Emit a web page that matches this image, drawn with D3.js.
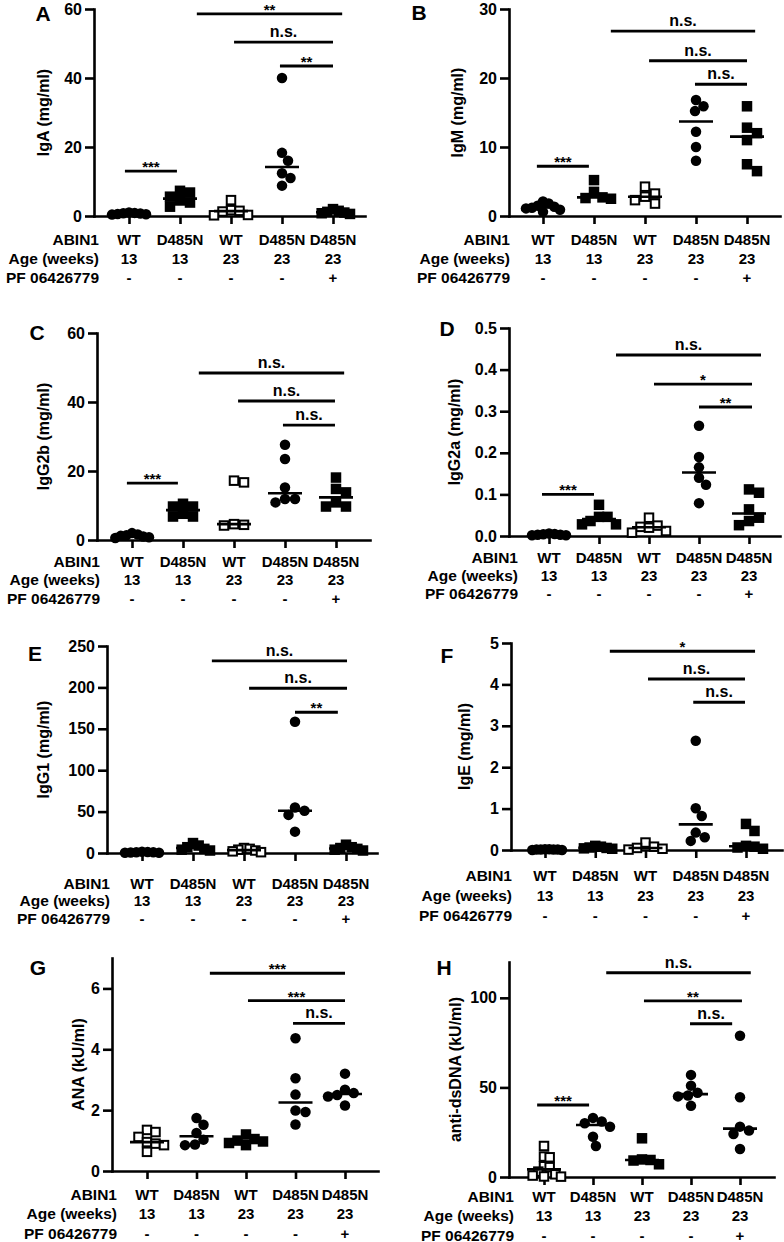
<!DOCTYPE html>
<html><head><meta charset="utf-8">
<script src="https://cdn.jsdelivr.net/npm/d3@7"></script>
<style>
body{margin:0;background:#fff}
text{font-family:"Liberation Sans",Arial,sans-serif;font-weight:bold;fill:#000}
</style>
</head><body>
<svg id="chart" width="784" height="1242"></svg>
<script>
// ---------- data ----------
const rowTitles = ["ABIN1", "Age (weeks)", "PF 06426779"];
const abin1 = ["WT", "D485N", "WT", "D485N", "D485N"];
const ageWeeks = ["13", "13", "23", "23", "23"];
const pfTreatment = ["-", "-", "-", "-", "+"];

const panelLetters = ["A", "B", "C", "D", "E", "F", "G", "H"];
const yTitles = ["IgA (mg/ml)", "IgM (mg/ml)", "IgG2b (mg/ml)", "IgG2a (mg/ml)",
                 "IgG1 (mg/ml)", "IgE (mg/ml)", "ANA (kU/ml)", "anti-dsDNA (kU/ml)"];
const yDomains = [[0, 60], [0, 30], [0, 60], [0, 0.5], [0, 250], [0, 5], [0, 7], [0, 120]];
const yTickValues = [
  [0, 20, 40, 60], [0, 10, 20, 30], [0, 20, 40, 60], [0, 0.1, 0.2, 0.3, 0.4, 0.5],
  [0, 50, 100, 150, 200, 250], [0, 1, 2, 3, 4, 5], [0, 2, 4, 6], [0, 50, 100]];
const yTickFormats = ["d", "d", "d", ".1f", "d", "d", "d", "d"];

// marker per group: circle = filled circle, square = filled square, open = open square
const markersIg = ["circle", "square", "open", "circle", "square"];
const markersAuto = ["open", "circle", "square", "circle", "circle"];

const valuesA = [[1.0, 0.9, 0.8, 0.7, 0.6, 0.5, 0.4], [7.3, 6.8, 5.6, 4.5, 3.9, 2.7],
  [4.6, 1.7, 1.5, 1.3, 0.3, 0.2], [40, 18.3, 16, 12.4, 11, 8.8], [2.0, 1.5, 1.2, 1.0, 0.8, 0.6]];
const valuesB = [[2.1, 1.8, 1.5, 1.35, 1.2, 1.1, 0.9, 0.6], [5.2, 3.5, 2.7, 2.6, 2.5],
  [4.25, 3.25, 2.8, 2.3, 1.8], [16.8, 15.9, 15.2, 12.2, 10.0, 8.0], [15.9, 12.8, 12.0, 11.0, 7.5, 6.5]];
const valuesC = [[2.0, 1.6, 1.4, 1.2, 1.0, 0.8, 0.6], [10.5, 9.7, 9.7, 7.6, 6.8, 6.8],
  [17.2, 16.7, 4.6, 4.4, 4.2], [27.6, 23.5, 15.2, 11.9, 11.9, 10.9], [18.1, 14.8, 13.8, 10.9, 9.7, 9.7]];
const valuesD = [[0.006, 0.005, 0.004, 0.003, 0.003, 0.002, 0.002], [0.075, 0.046, 0.046, 0.036, 0.028, 0.028],
  [0.044, 0.025, 0.022, 0.02, 0.012, 0.008], [0.265, 0.19, 0.165, 0.14, 0.123, 0.079],
  [0.112, 0.104, 0.064, 0.044, 0.036, 0.026]];
const valuesE = [[1.5, 1.2, 1.0, 0.8, 0.5, 0.3, 0.2], [12, 9, 7, 5, 4, 3],
  [6, 5, 4, 3, 2, 1], [158.5, 55, 51, 46, 25.8], [10, 7, 6, 5, 4, 3]];
const valuesF = [[0.02, 0.02, 0.01, 0.01, 0.01, 0.01, 0, 0], [0.1, 0.08, 0.06, 0.05, 0.04, 0.03],
  [0.18, 0.08, 0.05, 0.03, 0.01], [2.64, 1.01, 0.82, 0.42, 0.31, 0.22], [0.63, 0.46, 0.10, 0.08, 0.06, 0.03]];
const valuesG = [[1.35, 1.28, 1.12, 0.95, 0.9, 0.85, 0.63], [1.74, 1.52, 1.25, 1.03, 0.87, 0.85],
  [1.2, 1.05, 1.0, 0.97, 0.92, 0.85], [4.36, 3.05, 2.51, 1.99, 1.94, 1.53], [3.2, 2.67, 2.56, 2.5, 2.45, 2.15]];
const valuesH = [[17.3, 11.4, 11.0, 6.0, 5.5, 3.0, 1.5, 0.8, 0.3, 0.2], [33, 31, 30, 28, 22.5, 17.3],
  [21.6, 9.8, 9.5, 9.2, 7.1], [57, 51, 47, 45.5, 45, 39.7], [78.8, 44.5, 28.1, 25.9, 24, 15.6]];

// significance brackets: from/to in category index units, y in data units
const sigA = [{from: 1.33, to: 4.18, y: 58.6, label: "**"}, {from: 2.06, to: 4.0, y: 50.4, label: "n.s."},
  {from: 2.96, to: 4.0, y: 43.5, label: "**"}, {from: -0.08, to: 0.94, y: 13.0, label: "***"}];
const sigB = [{from: 1.33, to: 4.16, y: 26.8, label: "n.s."}, {from: 2.08, to: 4.0, y: 22.5, label: "n.s."},
  {from: 2.98, to: 4.0, y: 19.1, label: "n.s."}, {from: -0.12, to: 0.9, y: 7.2, label: "***"}];
const sigC = [{from: 1.31, to: 4.16, y: 48.4, label: "n.s."}, {from: 2.08, to: 3.98, y: 40.3, label: "n.s."},
  {from: 2.96, to: 3.98, y: 33.3, label: "n.s."}, {from: -0.1, to: 0.9, y: 16.5, label: "***"}];
const sigD = [{from: 1.34, to: 4.24, y: 0.435, label: "n.s."}, {from: 2.1, to: 4.06, y: 0.365, label: "*"},
  {from: 3.0, to: 4.06, y: 0.31, label: "**"}, {from: -0.14, to: 0.9, y: 0.10, label: "***"}];
const sigE = [{from: 1.37, to: 4.02, y: 232, label: "n.s."}, {from: 2.1, to: 4.02, y: 199, label: "n.s."},
  {from: 3.0, to: 3.84, y: 170, label: "**"}];
const sigF = [{from: 1.29, to: 4.18, y: 4.8, label: "*"}, {from: 2.05, to: 3.98, y: 4.13, label: "n.s."},
  {from: 2.95, to: 3.98, y: 3.57, label: "n.s."}];
const sigG = [{from: 1.27, to: 4.0, y: 6.5, label: "***"}, {from: 2.04, to: 4.0, y: 5.6, label: "***"},
  {from: 2.95, to: 4.0, y: 4.85, label: "n.s."}];
const sigH = [{from: 1.27, to: 4.22, y: 114, label: "n.s."}, {from: 2.04, to: 4.04, y: 98.3, label: "**"},
  {from: 2.98, to: 3.84, y: 85.5, label: "n.s."}, {from: -0.14, to: 0.92, y: 40.2, label: "***"}];

const panelValues = [valuesA, valuesB, valuesC, valuesD, valuesE, valuesF, valuesG, valuesH];
const panelSig = [sigA, sigB, sigC, sigD, sigE, sigF, sigG, sigH];
const panelMarkers = [markersIg, markersIg, markersIg, markersIg, markersIg, markersIg, markersAuto, markersAuto];

// ---------- layout (pixels) ----------
const layout = [
  {axisX: 94,  y0: 216,  yTop: 9,   cat0: 129, step: 51,    xEnd: 365, rowOff: 23, rowGap: 19,   labelRight: 99,  titleX: 43,  letter: [43, 13]},
  {axisX: 509, y0: 216,  yTop: 9,   cat0: 543, step: 51,    xEnd: 780, rowOff: 23, rowGap: 19,   labelRight: 510, titleX: 457, letter: [419, 12]},
  {axisX: 97,  y0: 540,  yTop: 333, cat0: 132, step: 51,    xEnd: 370, rowOff: 21, rowGap: 18.5, labelRight: 100, titleX: 43,  letter: [37, 332]},
  {axisX: 509, y0: 536,  yTop: 328, cat0: 549, step: 50,    xEnd: 780, rowOff: 21, rowGap: 18,   labelRight: 518, titleX: 454, letter: [447, 328]},
  {axisX: 107, y0: 853,  yTop: 646, cat0: 142, step: 51,    xEnd: 377, rowOff: 30, rowGap: 17.5, labelRight: 110, titleX: 43,  letter: [35, 653]},
  {axisX: 511, y0: 850,  yTop: 643, cat0: 545, step: 50.25, xEnd: 782, rowOff: 25, rowGap: 20,   labelRight: 512, titleX: 464, letter: [447, 655]},
  {axisX: 112, y0: 1171, yTop: 958, cat0: 147, step: 49.5,  xEnd: 378, rowOff: 23, rowGap: 19.5, labelRight: 117, titleX: 78,  letter: [38, 967]},
  {axisX: 509, y0: 1177, yTop: 962, cat0: 544, step: 49,    xEnd: 774, rowOff: 19, rowGap: 19.5, labelRight: 514, titleX: 455, letter: [444, 967]}
];

const svg = d3.select("#chart");
const LW = 2.6, MS = 10.5, MEDIAN_HALF = 17, SWARM_HALF = 17, FS = "15px";

function swarm(vals, y, shape) {
  const placed = [];
  const sep = MS * 0.92;
  vals.forEach(v => {
    const py = y(v);
    let dx = 0;
    for (let k = 0; k < 400; k++) {
      const cand = (k === 0 ? 0 : (k % 2 ? 1 : -1) * Math.ceil(k / 2)) * 0.5;
      const ok = placed.every(p => {
        const ax = Math.abs(p.dx - cand), ay = Math.abs(p.py - py);
        return shape === "circle" ? Math.hypot(ax, ay) >= sep : Math.max(ax, ay) >= sep;
      });
      if (ok) { dx = cand; break; }
    }
    placed.push({v, py, dx});
  });
  const span = d3.max(placed, p => Math.abs(p.dx));
  if (span > SWARM_HALF) placed.forEach(p => p.dx *= SWARM_HALF / span);
  return placed;
}

layout.forEach((L, pi) => {
  const g = svg.append("g");
  const y = d3.scaleLinear().domain(yDomains[pi]).range([L.y0, L.yTop]);
  const x = d3.scaleLinear()
    .domain([(L.axisX - L.cat0) / L.step, (L.xEnd - L.cat0) / L.step])
    .range([L.axisX, L.xEnd]);

  // y axis
  const ya = g.append("g").attr("transform", `translate(${L.axisX},0)`)
    .call(d3.axisLeft(y).tickValues(yTickValues[pi]).tickFormat(d3.format(yTickFormats[pi]))
      .tickSize(9).tickSizeOuter(0).tickPadding(3));
  // x axis
  const xa = g.append("g").attr("transform", `translate(0,${L.y0})`)
    .call(d3.axisBottom(x).tickValues([0, 1, 2, 3, 4]).tickFormat("").tickSize(8).tickSizeOuter(0));
  [ya, xa].forEach(a => {
    a.selectAll("path,line").attr("stroke", "#000").attr("stroke-width", LW);
    a.select(".domain").attr("stroke-linecap", "square");
    a.selectAll("text").style("font-size", "16px").attr("fill", "#000");
  });

  // y title
  g.append("text")
    .attr("transform", `translate(${L.titleX},${(L.y0 + L.yTop) / 2}) rotate(-90)`)
    .attr("text-anchor", "middle").attr("dominant-baseline", "central")
    .style("font-size", "16px").text(yTitles[pi]);

  // panel letter
  g.append("text").attr("x", L.letter[0]).attr("y", L.letter[1])
    .attr("text-anchor", "middle").attr("dominant-baseline", "central")
    .style("font-size", "21px").text(panelLetters[pi]);

  // category rows
  const rows = [abin1, ageWeeks, pfTreatment];
  rows.forEach((r, ri) => {
    const ry = L.y0 + L.rowOff + ri * L.rowGap;
    g.append("text").attr("x", L.labelRight).attr("y", ry)
      .attr("text-anchor", "end").attr("dominant-baseline", "central")
      .style("font-size", "15.5px").text(rowTitles[ri]);
    g.selectAll(null).data(r).enter().append("text")
      .attr("x", (d, i) => x(i)).attr("y", ry)
      .attr("text-anchor", "middle").attr("dominant-baseline", "central")
      .style("font-size", FS).text(d => d);
  });

  // points
  panelValues[pi].forEach((vals, gi) => {
    const shape = panelMarkers[pi][gi];
    const pts = swarm(vals, y, shape);
    const cx = x(gi);
    const grp = g.append("g");
    if (shape === "circle") {
      grp.selectAll("circle").data(pts).enter().append("circle")
        .attr("cx", p => cx + p.dx).attr("cy", p => p.py).attr("r", MS / 2).attr("fill", "#000");
    } else if (shape === "square") {
      grp.selectAll("rect").data(pts).enter().append("rect")
        .attr("x", p => cx + p.dx - MS / 2).attr("y", p => p.py - MS / 2)
        .attr("width", MS).attr("height", MS).attr("fill", "#000");
    } else {
      const s = MS - 2;
      grp.selectAll("rect").data(pts).enter().append("rect")
        .attr("x", p => cx + p.dx - s / 2).attr("y", p => p.py - s / 2)
        .attr("width", s).attr("height", s).attr("fill", "#fff")
        .attr("stroke", "#000").attr("stroke-width", 2);
    }
    // median line
    const med = d3.median(vals);
    g.append("line").attr("x1", cx - MEDIAN_HALF).attr("x2", cx + MEDIAN_HALF)
      .attr("y1", y(med)).attr("y2", y(med)).attr("stroke", "#000").attr("stroke-width", LW);
  });

  // significance bars
  panelSig[pi].forEach(s => {
    const yy = y(s.y);
    g.append("line").attr("x1", x(s.from)).attr("x2", x(s.to)).attr("y1", yy).attr("y2", yy)
      .attr("stroke", "#000").attr("stroke-width", LW + 0.3);
    const isStar = s.label.indexOf("*") >= 0;
    g.append("text").attr("x", (x(s.from) + x(s.to)) / 2)
      .attr("y", isStar ? yy + 1 : yy - 5)
      .attr("text-anchor", "middle")
      .style("font-size", isStar ? "15px" : "16px")
      .text(s.label);
  });
});
</script>
</body></html>
